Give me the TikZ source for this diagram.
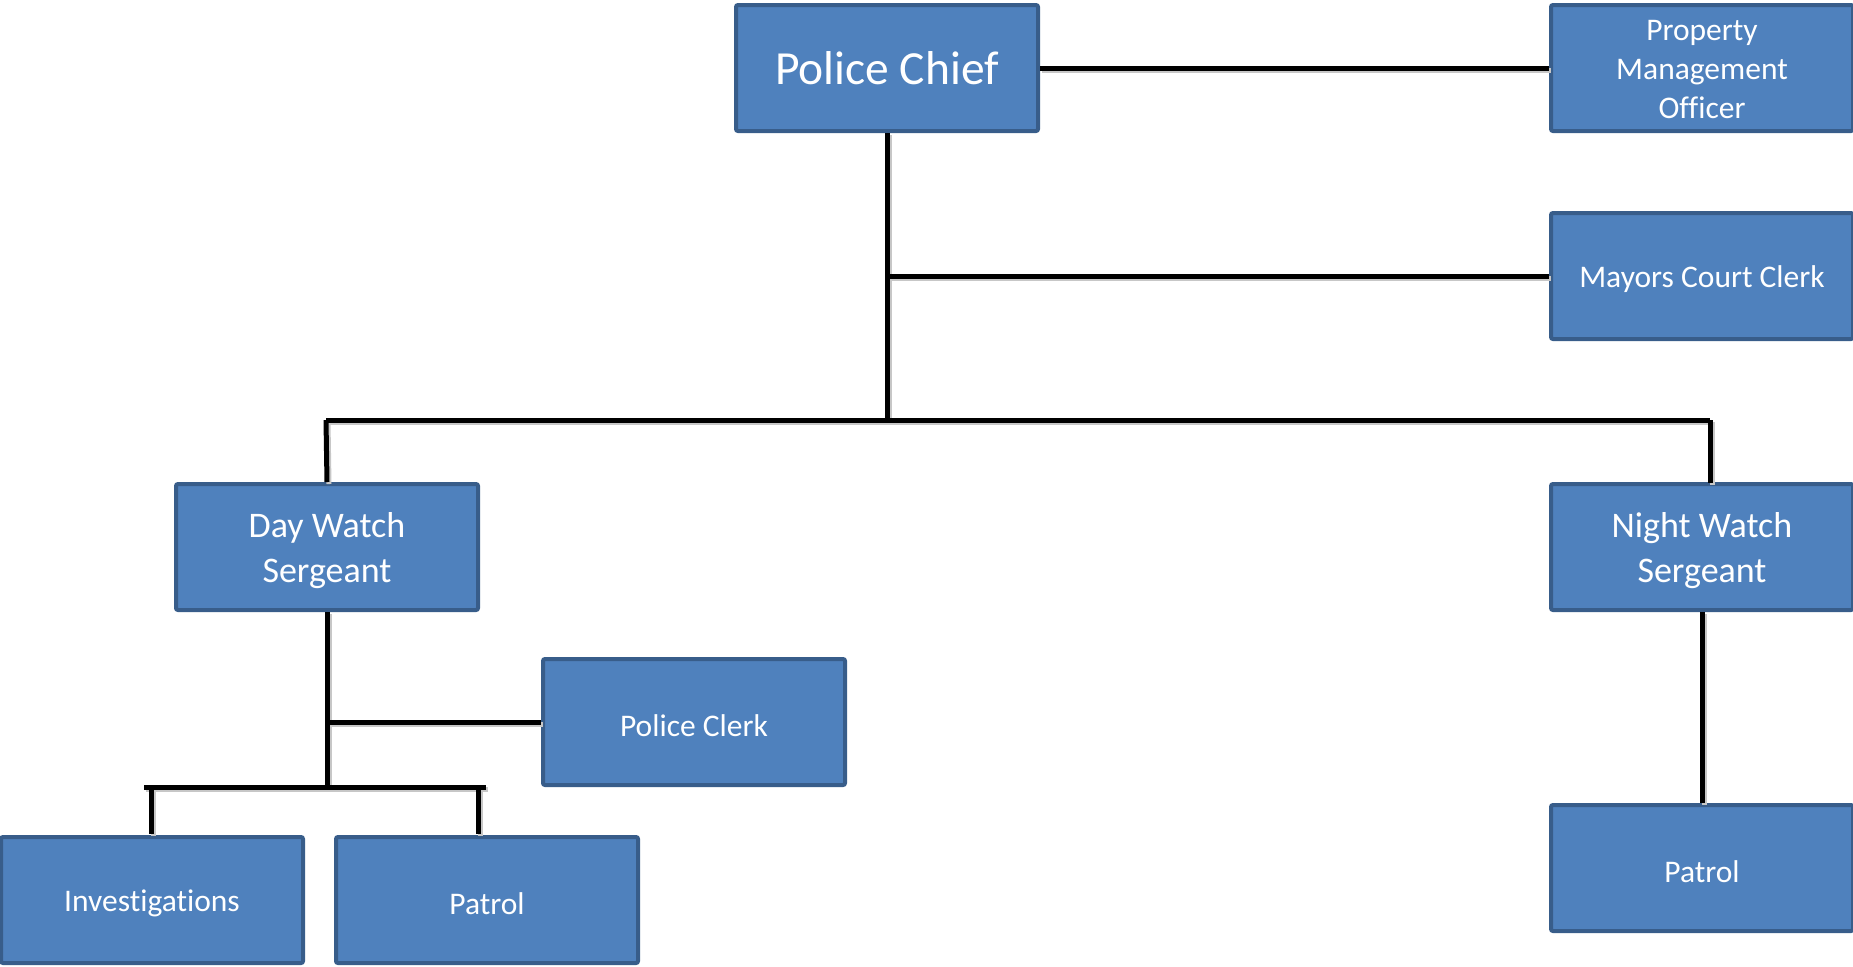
\documentclass[tikz,border=0pt]{standalone}
\usepackage{fontspec}
\setmainfont[Ligatures=NoCommon]{Carlito}
\definecolor{boxfill}{HTML}{4F81BD}
\definecolor{boxdraw}{HTML}{385D8A}
\newcommand\lowtext[1]{\raisebox{-1.75pt}[\height][\depth]{#1}}
\begin{document}
\begin{tikzpicture}[x=0.5pt,y=-0.5pt,
  orgbox/.style={rectangle, fill=boxfill, draw=boxdraw, line width=2pt,
    rounded corners=1pt, minimum width=151pt, minimum height=63pt,
    inner sep=2pt, text=white, align=center,
    font=\fontsize{15.75}{19.5}\selectfont},
  bigtext/.style={font=\fontsize{23.75}{28}\selectfont},
  midtext/.style={font=\fontsize{18}{22.5}\selectfont},
  shadowline/.style={line width=2.5pt, black!22},
  conn/.style={line width=2.5pt, black}
]
\useasboundingbox (0,0) rectangle (1853,966);

% nodes
\node[orgbox, bigtext] (chief) at (887,68) {Police Chief};
\node[orgbox] (prop) at (1702,68) {\rule{0pt}{12pt}Property\\Management\\Officer};
\node[orgbox] (mayor) at (1702,276) {\lowtext{Mayors Court Clerk}};
\node[orgbox, midtext] (day) at (327,547) {\rule{0pt}{16pt}Day Watch\\Sergeant};
\node[orgbox, midtext] (night) at (1702,547) {\rule{0pt}{16pt}Night Watch\\Sergeant};
\node[orgbox] (clerk) at (694,722) {\lowtext{Police Clerk}};
\node[orgbox] (inv) at (152,900) {\lowtext{Investigat\kern0pt ions}};
\node[orgbox] (patrolL) at (487,900) {\lowtext{Patrol}};
\node[orgbox] (patrolR) at (1702,868) {\lowtext{Patrol}};

% junction coordinates
\coordinate (jmayor) at (chief.south |- mayor.west);
\coordinate (bus) at (887,420);
\coordinate (busL) at (326,420);
\coordinate (busR) at (1710,420);
\coordinate (nightdrop) at (1710,483);
\coordinate (jclerk) at (day.south |- clerk.west);
\coordinate (jbottom) at (327,787);
\coordinate (bbL) at (144,787);
\coordinate (bbR) at (486,787);
\coordinate (dropInv) at (151,787);
\coordinate (dropPat) at (478,787);
\coordinate (invtop) at (151,834);
\coordinate (pattop) at (478,834);

% shadows
\begin{scope}[transform canvas={xshift=1pt,yshift=-1pt}]
\draw[shadowline] (chief.east) -- (prop.west |- chief.east);
\draw[shadowline] (chief.south) -- (bus);
\draw[shadowline] (jmayor) -- (mayor.west);
\draw[shadowline] (busL) -- (busR);
\draw[shadowline] (busL) -- (day.north);
\draw[shadowline] (busR) -- (nightdrop);
\draw[shadowline] (day.south) -- (jbottom);
\draw[shadowline] (jclerk) -- (clerk.west);
\draw[shadowline] (bbL) -- (bbR);
\draw[shadowline] (dropInv) -- (invtop);
\draw[shadowline] (dropPat) -- (pattop);
\draw[shadowline] (night.south) -- (patrolR.north);
\end{scope}

% connectors
\draw[conn] (chief.east) -- (prop.west |- chief.east);
\draw[conn] (chief.south) -- (bus);
\draw[conn] (jmayor) -- (mayor.west);
\draw[conn] (busL) -- (busR);
\draw[conn] (busL) -- (day.north);
\draw[conn] (busR) -- (nightdrop);
\draw[conn] (day.south) -- (jbottom);
\draw[conn] (jclerk) -- (clerk.west);
\draw[conn] (bbL) -- (bbR);
\draw[conn] (dropInv) -- (invtop);
\draw[conn] (dropPat) -- (pattop);
\draw[conn] (night.south) -- (patrolR.north);
\end{tikzpicture}
\end{document}
